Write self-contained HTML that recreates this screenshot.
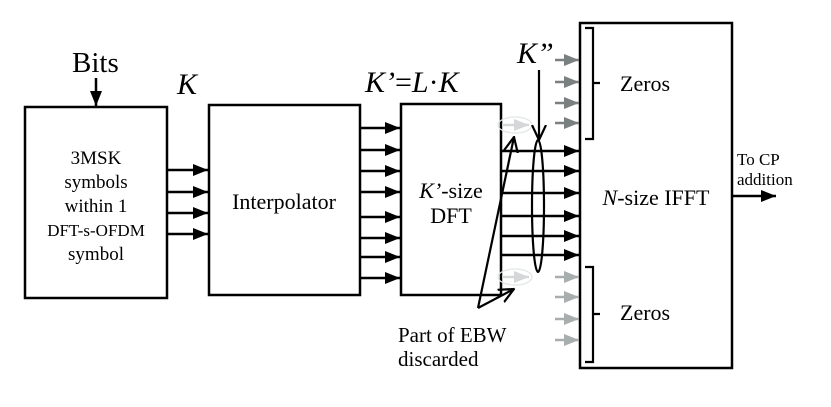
<!DOCTYPE html>
<html><head><style>body{margin:0;background:#fff}svg{display:block}text{font-family:"Liberation Serif",serif;fill:#000}</style></head>
<body>
<svg width="831" height="407" viewBox="0 0 831 407">
<defs>
<marker id="a" markerWidth="16" markerHeight="14" refX="15" refY="7" orient="auto" markerUnits="userSpaceOnUse"><path d="M0,1L15,7L0,13z" fill="#000"/></marker>
<marker id="g" markerWidth="16" markerHeight="14" refX="15" refY="7" orient="auto" markerUnits="userSpaceOnUse"><path d="M0,1L15,7L0,13z" fill="#7a7f7f"/></marker>
<marker id="l" markerWidth="16" markerHeight="14" refX="15" refY="7" orient="auto" markerUnits="userSpaceOnUse"><path d="M0,1L15,7L0,13z" fill="#a8adad"/></marker>
<marker id="f" markerWidth="16" markerHeight="14" refX="15" refY="7" orient="auto" markerUnits="userSpaceOnUse"><path d="M0,1L15,7L0,13z" fill="#d4d8d8"/></marker>
<marker id="v" markerWidth="16" markerHeight="16" refX="15" refY="8" orient="auto" markerUnits="userSpaceOnUse"><path d="M0,1L15,8L0,15" fill="none" stroke="#000" stroke-width="2.2"/></marker>
</defs>
<g fill="none" stroke="#000" stroke-width="2.5">
<rect x="25" y="107" width="142" height="191"/>
<rect x="209" y="105" width="151" height="190"/>
<rect x="401" y="104" width="100" height="191"/>
<rect x="580" y="23" width="152" height="345"/>
</g>
<g stroke="#000" stroke-width="2.5" marker-end="url(#a)">
<line x1="96" y1="78" x2="96" y2="106"/>
<line x1="167" y1="170" x2="208" y2="170"/>
<line x1="167" y1="192" x2="208" y2="192"/>
<line x1="167" y1="213" x2="208" y2="213"/>
<line x1="167" y1="234" x2="208" y2="234"/>
<line x1="360" y1="128" x2="400" y2="128"/>
<line x1="360" y1="150" x2="400" y2="150"/>
<line x1="360" y1="171" x2="400" y2="171"/>
<line x1="360" y1="192" x2="400" y2="192"/>
<line x1="360" y1="217" x2="400" y2="217"/>
<line x1="360" y1="238" x2="400" y2="238"/>
<line x1="360" y1="257" x2="400" y2="257"/>
<line x1="360" y1="278" x2="400" y2="278"/>
<line x1="501" y1="151" x2="579" y2="151"/>
<line x1="501" y1="171" x2="579" y2="171"/>
<line x1="501" y1="193" x2="579" y2="193"/>
<line x1="501" y1="216" x2="579" y2="216"/>
<line x1="501" y1="236" x2="579" y2="236"/>
<line x1="501" y1="255" x2="579" y2="255"/>
<line x1="732" y1="196" x2="776" y2="196"/>
</g>
<g stroke="#7a7f7f" stroke-width="2.5" marker-end="url(#g)">
<line x1="555" y1="60" x2="579" y2="60"/><line x1="555" y1="82" x2="579" y2="82"/>
<line x1="555" y1="103" x2="579" y2="103"/><line x1="555" y1="123" x2="579" y2="123"/>
</g>
<g stroke="#a8adad" stroke-width="2.5" marker-end="url(#l)">
<line x1="555" y1="277" x2="579" y2="277"/><line x1="555" y1="297" x2="579" y2="297"/>
<line x1="555" y1="319" x2="579" y2="319"/><line x1="555" y1="340" x2="579" y2="340"/>
</g>
<g stroke="#d4d8d8" stroke-width="2.5" marker-end="url(#f)">
<line x1="502" y1="125" x2="529" y2="125"/><line x1="502" y1="277" x2="529" y2="277"/>
</g>
<g fill="none" stroke="#e2e6e6" stroke-width="1.2">
<ellipse cx="515" cy="125" rx="17" ry="8"/><ellipse cx="515" cy="277" rx="17" ry="8"/>
</g>
<g fill="none" stroke="#000" stroke-width="2.2">
<path d="M585,28h8v111h-8M593,83h7"/>
<path d="M585,267h8v95h-8M593,314h7"/>
<ellipse cx="538" cy="206" rx="6" ry="66"/>
<line x1="539" y1="70" x2="539" y2="140" marker-end="url(#v)"/>
<line x1="478" y1="308" x2="514" y2="137" marker-end="url(#v)"/>
<line x1="478" y1="308" x2="514" y2="289" marker-end="url(#v)"/>
</g>
<text x="72" y="72" font-size="29">Bits</text>
<text x="177" y="94" font-size="30" font-style="italic">K</text>
<text x="365" y="92" font-size="30"><tspan font-style="italic">K’</tspan>=<tspan font-style="italic">L</tspan>·<tspan font-style="italic">K</tspan></text>
<text x="517" y="63" font-size="30"><tspan font-style="italic">K”</tspan></text>
<g font-size="19" text-anchor="middle">
<text x="96" y="164">3MSK</text><text x="96" y="188">symbols</text><text x="96" y="212">within 1</text>
<text x="96" y="236" font-size="17">DFT-s-OFDM</text><text x="96" y="260">symbol</text>
<text x="284" y="209" font-size="22">Interpolator</text>
<text x="451" y="198" font-size="22"><tspan font-style="italic">K’</tspan>-size</text>
<text x="451" y="223" font-size="22">DFT</text>
<text x="656" y="205" font-size="22"><tspan font-style="italic">N</tspan>-size IFFT</text>
</g>
<text x="620" y="91" font-size="22">Zeros</text>
<text x="620" y="320" font-size="22">Zeros</text>
<text x="737" y="165" font-size="17">To CP</text>
<text x="737" y="185" font-size="17">addition</text>
<text x="398" y="342" font-size="21">Part of EBW</text>
<text x="398" y="366" font-size="21">discarded</text>
</svg>
</body></html>
